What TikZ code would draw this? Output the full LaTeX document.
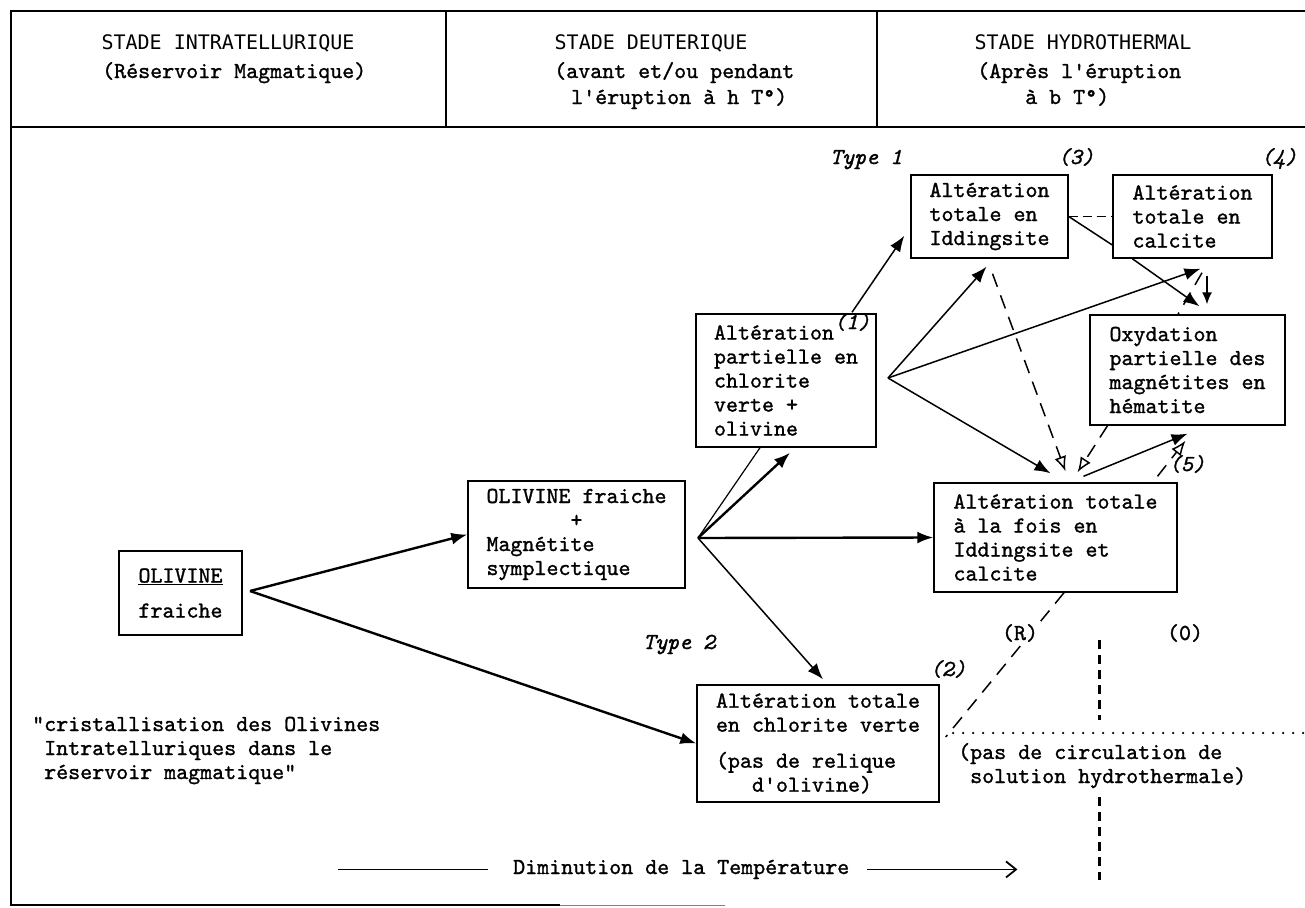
\documentclass[tikz,border=0pt]{standalone}
\usepackage{fontspec}
\setmonofont{lmmono10-regular.otf}[ItalicFont=lmmono10-italic.otf, FakeBold=1.2]
\newfontfamily\titrefont{DejaVu Sans Mono}
\usetikzlibrary{arrows.meta}

\tikzset{
  boite/.style={draw, line width=1.4pt, fill=white, align=left, inner sep=0pt,
    font=\ttfamily\fontsize{22.86}{24}\selectfont},
  texte/.style={inner sep=0pt, align=left, font=\ttfamily\fontsize{22.86}{24}\selectfont},
  titre/.style={inner sep=0pt, anchor=base, font=\titrefont\fontsize{20}{24}\selectfont},
  num/.style={inner sep=0pt, anchor=base, font=\ttfamily\itshape\fontsize{22.86}{24}\selectfont},
  fl/.style={-{Latex[length=16pt,width=12pt]}, line width=1.5pt},
  flg/.style={fl, line width=2.4pt},
  tiret/.style={dash pattern=on 14pt off 9pt, line width=1.5pt},
  pointe/.style={-{Latex[open,length=15pt,width=12pt]}},
}

\begin{document}
\begin{tikzpicture}[x=1pt, y=-1pt]
  \useasboundingbox (0,0) rectangle (1305,907);

  % Cadre et en-tete
  \draw[line width=1.8pt] (1305,11) -- (11,11) -- (11,905) -- (560,905);
  \draw[line width=1pt, gray] (560,905) -- (725,905);
  \draw[line width=1.8pt] (11,127) -- (1305,127);
  \draw[line width=1.4pt] (446,11) -- (446,127);
  \draw[line width=1.4pt] (877,11) -- (877,127);

  % Stades
  \node[titre] (st1) at (228,49) {STADE INTRATELLURIQUE};
  \node[titre] (st2) at (651,49) {STADE DEUTERIQUE};
  \node[titre] (st3) at (1083,49) {STADE HYDROTHERMAL};
  \node[texte, anchor=base west] (ss1) at (102,78) {(Réservoir Magmatique)};
  \node[texte, anchor=base west] (ss2) at (554,104) {(avant et/ou pendant\\[2pt]\hspace*{17pt}l'éruption à h T°)};
  \node[texte, anchor=base west] (ss3) at (977,104) {(Après l'éruption\\[2pt]\hspace*{48pt}à b T°)};

  % Boites
  \node[boite, minimum width=123, minimum height=84] (ol) at (180.5,593) {\underline{OLIVINE}\\[11pt]fraiche};
  \node[boite, minimum width=217, minimum height=107] (ofm) at (576.5,534.5) {OLIVINE fraiche\\\makebox[180pt]{+}\\Magnétite\\symplectique};
  \node[boite, minimum width=180, minimum height=133] (cp) at (786,380.5) {Altération\\partielle en\\chlorite\\verte +\\olivine};
  \node[boite, minimum width=157, minimum height=83] (idd) at (989.5,216.5) {Altération\\totale en\\Iddingsite};
  \node[boite, minimum width=159, minimum height=83] (cal) at (1192.5,216.5) {Altération\\totale en\\calcite};
  \node[boite, minimum width=195, minimum height=110] (oxy) at (1187.5,370) {Oxydation\\partielle des\\magnétites en\\hématite};
  \node[boite, minimum width=243, minimum height=109] (idc) at (1055.5,537.5) {Altération totale\\à la fois en\\Iddingsite et\\calcite};
  \node[boite, minimum width=242, minimum height=117] (chl) at (818,743.5) {Altération totale\\en chlorite verte\\[12pt](pas de relique\\\hspace*{36pt}d'olivine)};

  % Numeros et types
  \node[num, anchor=base west] (ty1) at (830,164) {Type 1};
  \node[num] (n3) at (1076,164) {(3)};
  \node[num] (n4) at (1279,164) {(4)};
  \node[num] (n1) at (852,329) {(1)};
  \node[num] (n5) at (1187,471) {(5)};
  \node[num] (n2) at (948,676) {(2)};
  \node[num, anchor=base west] (ty2) at (643,649) {Type 2};

  % Fleches
  \coordinate (s0) at (250,591);
  \coordinate (s1) at (698,538);
  \coordinate (s2) at (888,378);
  \draw[flg] (s0) -- (ofm.west);
  \draw[flg] (s0) -- (chl.west);
  \draw[line width=1.2pt] (s1) -- ([xshift=-26pt]cp.south);
  \draw[flg] (s1) -- ([xshift=4pt,yshift=-5pt]cp.south);
  \draw[flg] (s1) -- (idc.west);
  \draw[fl] (s1) -- ([xshift=5pt,yshift=5pt]chl.north);
  \draw[fl] ([xshift=66pt,yshift=1pt]cp.north) -- ([xshift=-6pt,yshift=23pt]idd.south west);
  \draw[fl] (s2) -- ([xshift=-3pt,yshift=-8pt]idd.south);
  \draw[fl] (s2) -- ([xshift=8pt,yshift=-10pt]cal.south);
  \draw[fl] (s2) -- ([xshift=-5pt,yshift=9pt]idc.north);

  % Tiretes vers (5)
  \draw[tiret, pointe] ([xshift=3pt,yshift=-15pt]idd.south) -- ([xshift=10pt,yshift=11pt]idc.north);
  \draw[tiret, pointe] ([xshift=-80pt]oxy.south) -- ([xshift=22pt,yshift=10pt]idc.north);
  \draw[fl] ([xshift=28pt,yshift=6pt]idc.north) -- ([yshift=-8pt]oxy.south);
  \draw[tiret, pointe] ([xshift=102pt,yshift=6pt]idc.north) -- ([xshift=-2pt,yshift=-15pt]oxy.south);

  % (3) -> (4) -> oxydation
  \draw[tiret, dash pattern=on 9pt off 5pt] (idd.east) -- (cal.west);
  \draw[line width=1.5pt] (idd.east) -- ([yshift=-28.5pt]cal.west);
  \draw[fl] ([xshift=20pt]cal.south west) -- ([xshift=12pt,yshift=8pt]oxy.north);
  \draw[line width=1.5pt, -{Latex[length=12pt,width=10pt]}] ([xshift=14.5pt,yshift=-17pt]cal.south) -- ([xshift=19.5pt,yshift=10pt]oxy.north);
  \draw[tiret] ([xshift=9.5pt,yshift=-14pt]cal.south) -- ([xshift=-9.5pt]oxy.north);

  % Retour (R)
  \draw[tiret] ([xshift=8.5pt]idc.south) -- ([xshift=6pt,yshift=6.5pt]chl.east);
  \node[texte, fill=white, inner sep=3pt] (r) at (1020,633) {(R)};
  \node[texte] (o) at (1185,633) {(0)};

  % Pas de circulation
  \draw[line width=3pt, dash pattern=on 9pt off 6pt] (1099,640) -- (1099,720);
  \draw[line width=3pt, dash pattern=on 9pt off 6pt] (1099,797) -- (1099,880);
  \draw[line width=2.5pt, line cap=round, dash pattern=on 0pt off 10pt] (953,733) -- (1305,733);
  \node[texte, anchor=base west] (pc) at (958,783) {(pas de circulation de\\\hspace*{12pt}solution hydrothermale)};

  % Citation
  \node[texte, anchor=base west] (cit) at (32,779) {"cristallisation des Olivines\\\hspace*{12pt}Intratelluriques dans le\\\hspace*{12pt}réservoir magmatique"};

  % Temperature
  \node[texte, anchor=base west] (dim) at (513,874) {Diminution de la Température};
  \draw[line width=1.8pt] ([xshift=-25pt]dim.west) -- ++(-150,0);
  \draw[line width=1.8pt, -{Straight Barb[length=10pt,width=16pt]}] ([xshift=18pt]dim.east) -- ++(150,0);
\end{tikzpicture}
\end{document}
